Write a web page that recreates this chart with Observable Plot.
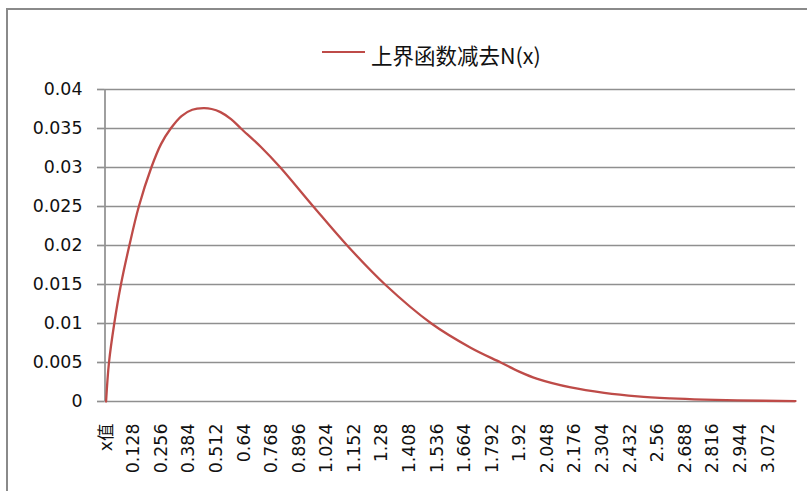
<!DOCTYPE html>
<html><head><meta charset="utf-8">
<script src="https://cdn.jsdelivr.net/npm/d3@7"></script>
<script src="https://cdn.jsdelivr.net/npm/@observablehq/plot@0.6"></script>
<style>
html,body{margin:0;padding:0;overflow:hidden;background:#fff}
#wrap{position:relative;width:807px;height:491px;overflow:hidden;background:#fff;font-family:"DejaVu Sans","Noto Sans CJK SC",sans-serif}
#frame{position:absolute;left:6px;top:8px;width:1200px;height:1200px;border-left:2px solid #8a8a8a;border-top:2px solid #8a8a8a;box-sizing:border-box;pointer-events:none}
#legend{position:relative;height:78px}
#legend .swatch{position:absolute;left:322px;top:50.5px;width:43px;height:2.4px;background:#BE4B48}
#legend .label{position:absolute;left:371px;top:40px;font-family:"Noto Sans CJK SC",sans-serif;font-size:21.5px;line-height:30px;color:#111;white-space:nowrap}
#chart svg{display:block}
</style></head>
<body>
<div id="wrap">
  <div id="frame"></div>
  <div id="legend"><div class="swatch"></div><div class="label">上界函数减去N(x)</div></div>
  <div id="chart"></div>
</div>
<script>
// Series name
const seriesName = "上界函数减去N(x)";
// x values
const xs = [0, 0.0135, 0.038, 0.069, 0.108, 0.152, 0.210, 0.255, 0.300, 0.350, 0.400, 0.452, 0.490, 0.531, 0.580, 0.626, 0.720, 0.809, 0.962, 1.119, 1.295, 1.510, 1.692, 1.832, 1.920, 2.002, 2.157, 2.312, 2.467, 2.620, 2.776, 2.930, 3.200];
// y values (上界函数减去N(x))
const ys = [0, 0.005, 0.010, 0.015, 0.020, 0.025, 0.030, 0.0330, 0.035, 0.0366, 0.0374, 0.0376, 0.0375, 0.0371, 0.0362, 0.035, 0.0326, 0.030, 0.025, 0.020, 0.015, 0.010, 0.0069, 0.005, 0.0038, 0.0029, 0.0018, 0.0011, 0.00065, 0.0004, 0.00024, 0.00014, 0.00005];
// tick values and labels
const yTicks = [0, 0.005, 0.01, 0.015, 0.02, 0.025, 0.03, 0.035, 0.04];
const yTickLabels = ["0", "0.005", "0.01", "0.015", "0.02", "0.025", "0.03", "0.035", "0.04"];
const xTickValues = [0, 0.128, 0.256, 0.384, 0.512, 0.64, 0.768, 0.896, 1.024, 1.152, 1.28, 1.408, 1.536, 1.664, 1.792, 1.92, 2.048, 2.176, 2.304, 2.432, 2.56, 2.688, 2.816, 2.944, 3.072];
const xTickLabels = ["x值", "0.128", "0.256", "0.384", "0.512", "0.64", "0.768", "0.896", "1.024", "1.152", "1.28", "1.408", "1.536", "1.664", "1.792", "1.92", "2.048", "2.176", "2.304", "2.432", "2.56", "2.688", "2.816", "2.944", "3.072"];

const data = xs.map((x, i) => ({x, y: ys[i]}));
const xMin = -0.005, xMax = 3.2;
const grid = "#8f8f8f";

const plot = Plot.plot({
  width: 807,
  height: 413,
  marginLeft: 104.5,
  marginRight: 12,
  marginTop: 11,
  marginBottom: 90,
  style: {fontFamily: "'DejaVu Sans','Noto Sans CJK SC',sans-serif", fontSize: "17.4px", color: "#111", background: "transparent"},
  x: {domain: [xMin, xMax]},
  y: {domain: [0, 0.04]},
  marks: [
    Plot.ruleY(yTicks, {stroke: grid, strokeWidth: 1.7}),
    Plot.ruleX([xMin], {y1: 0, y2: 0.04, stroke: grid, strokeWidth: 1.7}),
    Plot.axisY({ticks: yTicks, tickSize: 7.5, tickPadding: 15, stroke: grid, strokeWidth: 1.7, fill: "#111",
      tickFormat: d => yTickLabels[yTicks.indexOf(d)], label: null}),
    Plot.axisX({ticks: xTickValues, tickSize: 0, tickPadding: 22, tickRotate: -90, fill: "#111",
      tickFormat: d => xTickLabels[xTickValues.indexOf(d)], label: null}),
    Plot.line(data, {x: "x", y: "y", curve: "catmull-rom", stroke: "#BE4B48", strokeWidth: 2.3})
  ]
});
document.getElementById("chart").appendChild(plot);
</script>
</body></html>
